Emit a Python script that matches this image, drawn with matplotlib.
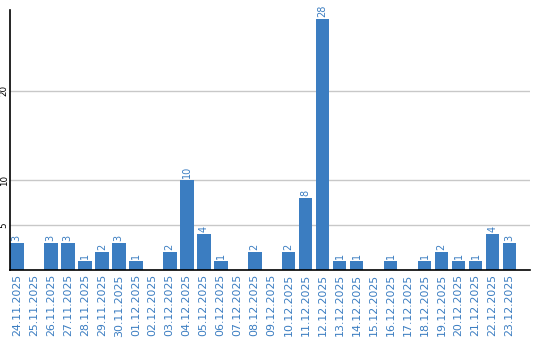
import matplotlib
matplotlib.use("Agg")
import matplotlib.pyplot as plt

dates = ["24.11.2025", "25.11.2025", "26.11.2025", "27.11.2025", "28.11.2025",
         "29.11.2025", "30.11.2025", "01.12.2025", "02.12.2025", "03.12.2025",
         "04.12.2025", "05.12.2025", "06.12.2025", "07.12.2025", "08.12.2025",
         "09.12.2025", "10.12.2025", "11.12.2025", "12.12.2025", "13.12.2025",
         "14.12.2025", "15.12.2025", "16.12.2025", "17.12.2025", "18.12.2025",
         "19.12.2025", "20.12.2025", "21.12.2025", "22.12.2025", "23.12.2025"]
values = [3, 0, 3, 3, 1, 2, 3, 1, 0, 2, 10, 4, 1, 0, 2, 0, 2, 8, 28, 1,
          1, 0, 1, 0, 1, 2, 1, 1, 4, 3]
yticks = [5, 10, 20]

blue = "#3b7dc1"
fig = plt.figure(figsize=(5.4, 3.4), dpi=100)
ax = fig.add_axes([10/540, 70/340, 520/540, 260/340])
x = list(range(len(values)))
ax.bar(x, values, width=0.8, color=blue, zorder=3)
for xi, v in zip(x, values):
    if v > 0:
        ax.text(xi, v + 0.25, str(v), rotation=90, ha="center", va="bottom",
                color=blue, fontsize=7, zorder=4)
ax.set_xlim(-0.4, 30.2)
ax.set_ylim(0, 29)
ax.set_yticks(yticks)
ax.set_yticklabels([str(t) for t in yticks], rotation=90, fontsize=6.3, va="center")
ax.yaxis.grid(True, color="#c8c8c8", linewidth=1, zorder=0)
ax.set_xticks(x)
ax.set_xticklabels(dates, rotation=90, color=blue, fontsize=7.9)
ax.tick_params(axis="both", length=0, pad=3)
ax.tick_params(axis="y", pad=1)
for s in ["top", "right"]:
    ax.spines[s].set_visible(False)
for s in ["left", "bottom"]:
    ax.spines[s].set_color("black")
    ax.spines[s].set_linewidth(1.2)
    ax.spines[s].set_zorder(5)
fig.savefig("out.png", dpi=100)
